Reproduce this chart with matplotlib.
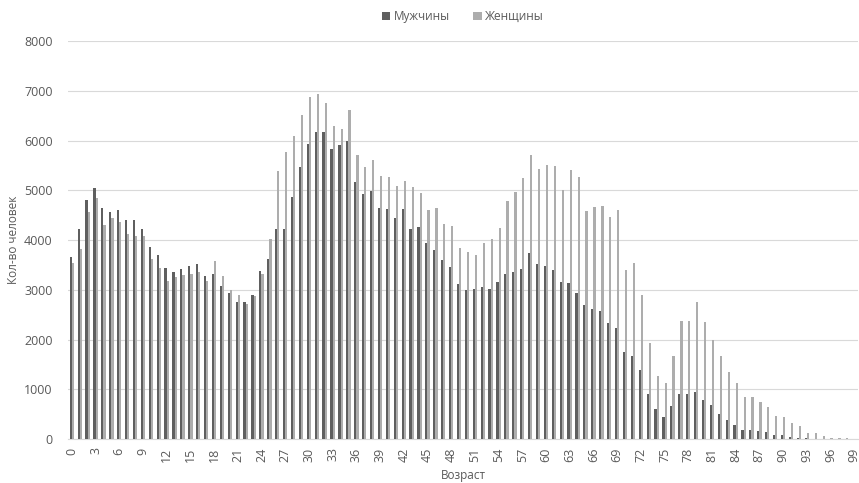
import matplotlib
matplotlib.use("Agg")
import matplotlib.pyplot as plt
import numpy as np

plt.rcParams['font.family'] = ['Open Sans', 'DejaVu Sans']

ages = list(range(100))
men = [3660, 4220, 4800, 5040, 4640, 4570, 4600, 4400, 4400, 4230,
       3870, 3690, 3430, 3350, 3410, 3470, 3510, 3280, 3310, 3070,
       2930, 2750, 2750, 2890, 3380, 3610, 4220, 4230, 4860, 5470,
       5930, 6170, 6170, 5830, 5920, 6000, 5160, 4930, 4990, 4650,
       4620, 4440, 4630, 4220, 4260, 3940, 3790, 3600, 3460, 3120,
       3000, 3010, 3050, 3020, 3160, 3310, 3360, 3420, 3740, 3520,
       3480, 3400, 3160, 3140, 2940, 2690, 2610, 2570, 2330, 2230,
       1740, 1660, 1390, 900, 600, 440, 660, 900, 900, 940,
       780, 690, 500, 380, 290, 180, 175, 160, 140, 90,
       80, 40, 27, 20, 10, 6, 4, 2, 1, 1]
women = [3540, 3820, 4560, 4840, 4300, 4440, 4360, 4120, 4090, 4090,
         3620, 3440, 3170, 3260, 3290, 3320, 3360, 3170, 3570, 3270,
         3000, 2890, 2710, 2880, 3320, 4020, 5390, 5760, 6100, 6520,
         6880, 6940, 6750, 6290, 6240, 6610, 5700, 5460, 5610, 5280,
         5270, 5090, 5180, 5070, 4940, 4600, 4640, 4330, 4280, 3840,
         3750, 3690, 3940, 4020, 4240, 4780, 4970, 5250, 5700, 5420,
         5510, 5490, 5000, 5400, 5270, 4590, 4670, 4690, 4460, 4600,
         3400, 3530, 2890, 1940, 1270, 1130, 1660, 2380, 2370, 2750,
         2350, 2000, 1670, 1345, 1120, 840, 850, 745, 650, 470,
         440, 315, 268, 127, 114, 60, 30, 20, 15, 10]

dark = '#5f5f5f'
light = '#adadad'
txt = '#595959'

fig, ax = plt.subplots(figsize=(8.59, 4.83), dpi=100)
fig.subplots_adjust(left=0.079, right=0.999, top=0.915, bottom=0.091)

x = np.arange(len(ages))
w = 0.28
ax.bar(x - w / 2, men, width=w, color=dark, label='Мужчины', zorder=3)
ax.bar(x + w / 2, women, width=w, color=light, label='Женщины', zorder=3)

ax.set_xlim(-0.5, 99.5)
ax.set_ylim(0, 8000)
ax.set_yticks(range(0, 8001, 1000))
ax.set_xticks(x[::3])
ax.set_xticklabels([str(a) for a in ages[::3]], rotation=90)
ax.tick_params(axis='both', length=0, labelsize=9, colors=txt)
ax.tick_params(axis='y', pad=11)
ax.tick_params(axis='x', pad=6)
ax.grid(axis='y', color='#d9d9d9', linewidth=0.8, zorder=0)
for s in ['top', 'right', 'left']:
    ax.spines[s].set_visible(False)
ax.spines['bottom'].set_color('#d9d9d9')

ax.set_xlabel('Возраст', fontsize=8.5, color=txt, labelpad=5)
ax.set_ylabel('Кол-во человек', fontsize=8.5, color=txt, labelpad=3)

ax.legend(loc='upper center', bbox_to_anchor=(0.5, 1.105), ncol=2, frameon=False,
          fontsize=8.5, labelcolor=txt, handlelength=0.7, handleheight=0.7,
          handletextpad=0.3, columnspacing=2)

plt.savefig('out.png', dpi=100)
